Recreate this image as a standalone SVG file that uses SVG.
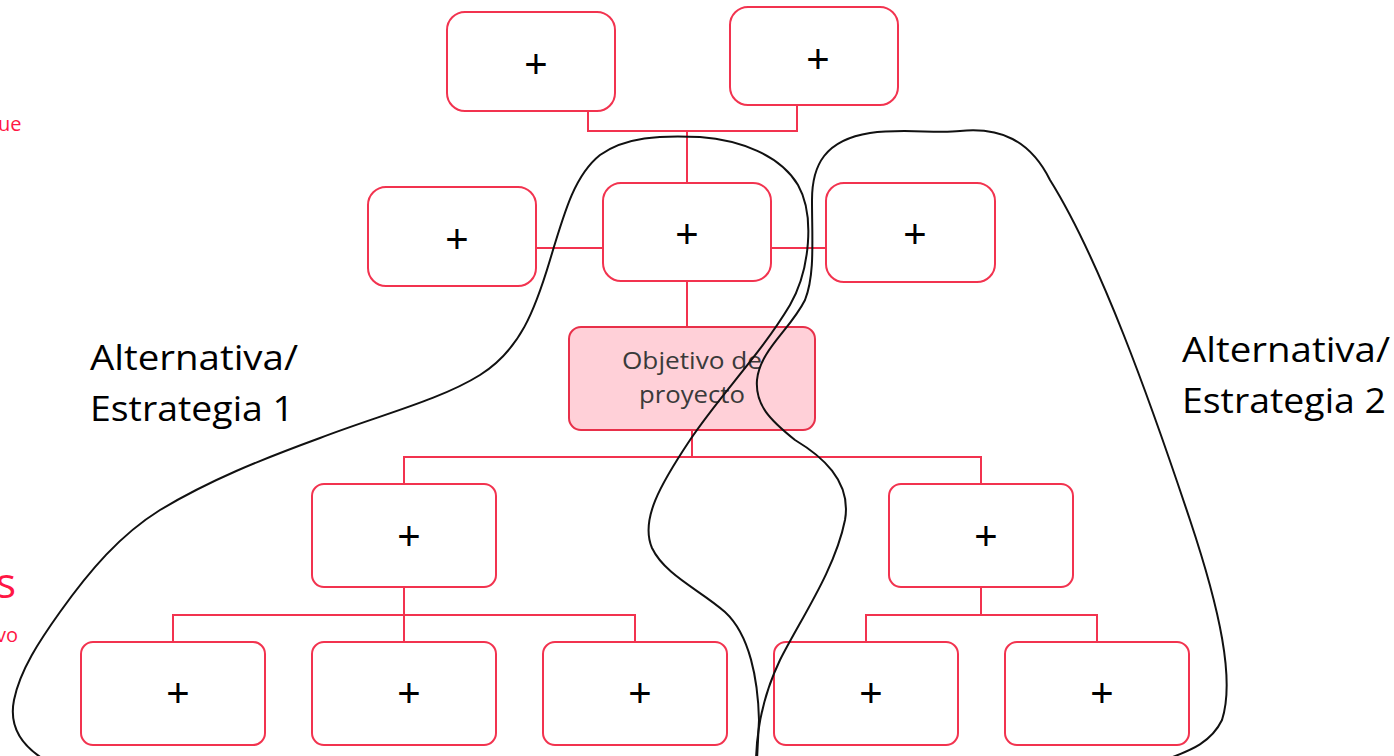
<svg xmlns="http://www.w3.org/2000/svg" width="1394" height="756" viewBox="0 0 1394 756">
<style>
.box{fill:#fff;stroke:#f2334f;stroke-width:2}
.obj{fill:#ffd0d8;stroke:#e8304a;stroke-width:2}
.con{fill:none;stroke:#f2334f;stroke-width:2}
.plus{font-family:"Liberation Sans",Arial,sans-serif;font-size:40px;fill:#000;text-anchor:middle;dominant-baseline:central}
.objt{font-family:"Open Sans","Liberation Sans",sans-serif;font-size:24px;fill:#3a3a3a;text-anchor:middle}
.alt{font-family:"Open Sans","Liberation Sans",sans-serif;font-size:35px;fill:#000}
.red{font-family:"Open Sans","Liberation Sans",sans-serif;fill:#ff1744}
.loop{fill:none;stroke:#111;stroke-width:2}
</style>
<rect width="1394" height="756" fill="#fff"/>
<g id="side-text">
<text class="red" x="-2" y="131" font-size="20">ue</text>
<text class="red" x="-4" y="598" font-size="42">s</text>
<text class="red" x="-4" y="642" font-size="20">vo</text>
</g>
<g id="connectors">
<polyline class="con" points="588,108 588,131 797,131 797,105"/>
<line class="con" x1="687" y1="131" x2="687" y2="183"/>
<line class="con" x1="536" y1="248" x2="603" y2="248"/>
<line class="con" x1="771" y1="248" x2="826" y2="248"/>
<line class="con" x1="687" y1="281" x2="687" y2="327"/>
<line class="con" x1="692" y1="430" x2="692" y2="457"/>
<polyline class="con" points="404,484 404,457 981,457 981,484"/>
<line class="con" x1="404" y1="587" x2="404" y2="642"/>
<polyline class="con" points="173,642 173,615 635,615 635,642"/>
<line class="con" x1="981" y1="587" x2="981" y2="615"/>
<polyline class="con" points="866,642 866,615 1097,615 1097,642"/>
</g>
<g id="n-top1"><rect class="box" x="447" y="12" width="168" height="99" rx="18"/><text class="plus" x="536" y="64">+</text></g>
<g id="n-top2"><rect class="box" x="730" y="7" width="168" height="98" rx="18"/><text class="plus" x="818" y="59">+</text></g>
<g id="n-mid1"><rect class="box" x="368" y="187" width="168" height="99" rx="18"/><text class="plus" x="457" y="239">+</text></g>
<g id="n-mid2"><rect class="box" x="603" y="183" width="168" height="98" rx="18"/><text class="plus" x="687" y="234">+</text></g>
<g id="n-mid3"><rect class="box" x="826" y="183" width="169" height="99" rx="18"/><text class="plus" x="915" y="234">+</text></g>
<g id="n-objetivo"><rect class="obj" x="569" y="327" width="246" height="103" rx="12"/>
<text class="objt" x="692" y="369" textLength="140" lengthAdjust="spacingAndGlyphs">Objetivo de</text><text class="objt" x="692" y="403" textLength="106" lengthAdjust="spacingAndGlyphs">proyecto</text></g>
<g id="n-l1"><rect class="box" x="312" y="484" width="184" height="103" rx="12"/><text class="plus" x="409" y="536">+</text></g>
<g id="n-r1"><rect class="box" x="889" y="484" width="184" height="103" rx="12"/><text class="plus" x="986" y="536">+</text></g>
<g id="n-b1"><rect class="box" x="81" y="642" width="184" height="103" rx="12"/><text class="plus" x="178" y="693">+</text></g>
<g id="n-b2"><rect class="box" x="312" y="642" width="184" height="103" rx="12"/><text class="plus" x="409" y="693">+</text></g>
<g id="n-b3"><rect class="box" x="543" y="642" width="184" height="103" rx="12"/><text class="plus" x="640" y="693">+</text></g>
<g id="n-b4"><rect class="box" x="774" y="642" width="184" height="103" rx="12"/><text class="plus" x="871" y="693">+</text></g>
<g id="n-b5"><rect class="box" x="1005" y="642" width="184" height="103" rx="12"/><text class="plus" x="1102" y="693">+</text></g>
<g id="loops">
<path class="loop" d="M 45,760 C 25,748 8,730 14,700 C 20,670 40,640 60,612 C 90,570 120,535 160,510 C 210,480 260,460 320,438 C 380,415 440,400 480,375 C 520,350 535,310 550,260 C 565,210 575,175 600,155 C 625,137 660,135 700,137 C 740,140 780,155 798,185 C 815,215 810,270 790,305 C 760,355 720,395 690,440 C 660,485 640,520 652,548 C 665,575 700,590 725,612 C 750,635 758,680 759,720 L 757,760"/>
<path class="loop" d="M 756,760 C 757,720 768,685 780,660 C 800,620 835,570 845,520 C 852,480 820,455 795,440 C 770,420 755,405 757,380 C 760,350 790,330 805,300 C 815,275 812,240 812,200 C 812,165 825,140 870,133 C 905,128 935,134 960,131 C 1000,127 1030,140 1050,180 C 1100,260 1150,400 1190,520 C 1220,610 1235,680 1222,720 C 1210,745 1185,752 1165,760"/>
</g>
<g id="labels">
<text class="alt" x="90" y="370" textLength="208" lengthAdjust="spacingAndGlyphs">Alternativa/</text>
<text class="alt" x="90" y="421" textLength="204" lengthAdjust="spacingAndGlyphs">Estrategia 1</text>
<text class="alt" x="1182" y="362" textLength="208" lengthAdjust="spacingAndGlyphs">Alternativa/</text>
<text class="alt" x="1182" y="413" textLength="204" lengthAdjust="spacingAndGlyphs">Estrategia 2</text>
</g>
</svg>
